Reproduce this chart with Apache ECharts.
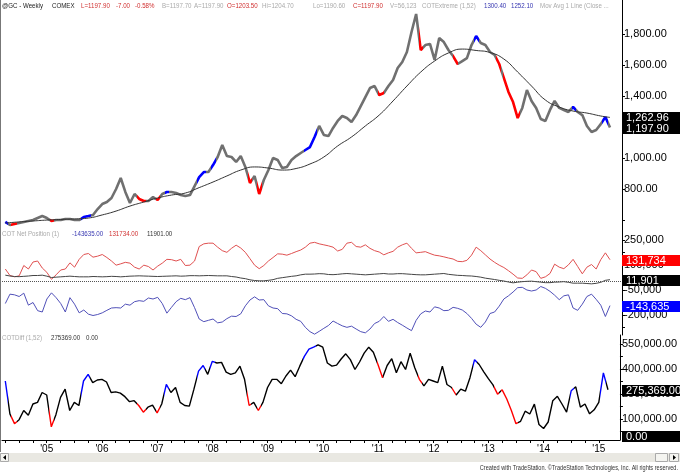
<!DOCTYPE html>
<html>
<head>
<meta charset="utf-8">
<script src="https://cdn.jsdelivr.net/npm/echarts@6/dist/echarts.min.js"></script>
<style>html,body{margin:0;padding:0;background:#fff}#chart{width:680px;height:472px}</style>
</head>
<body>
<div id="chart"></div>
<script>
// x = month index counted from Jan 2004 (12 = Jan 2005)
const months = [];
for (let m = 3; m <= 134; m++) months.push(m);
const yearTicks = [12, 24, 36, 48, 60, 72, 84, 96, 108, 120, 132];

// weekly @GC, sampled monthly
const priceClose = [
  590, 570, 577, 583, 590, 596, 602, 615, 628, 615,
  596, 602, 602, 609, 609, 602, 602, 622, 628, 635,
  673, 705, 718, 744, 802, 873, 783, 712, 770, 738,
  725, 725, 750, 731, 770, 783, 783, 776, 763, 757,
  763, 821, 879, 911, 911, 956, 1008, 1085, 1014, 1008,
  976, 1014, 944, 841, 886, 770, 860, 924, 1002, 989,
  937, 944, 989, 1014, 1034, 1053, 1072, 1137, 1208, 1150,
  1143, 1195, 1240, 1272, 1259, 1233, 1278, 1336, 1394, 1452,
  1465, 1407, 1420, 1465, 1504, 1581, 1620, 1684, 1813, 1929,
  1697, 1729, 1736, 1633, 1774, 1748, 1697, 1658, 1607, 1626,
  1645, 1729, 1787, 1742, 1729, 1684, 1665, 1607, 1517, 1427,
  1362, 1259, 1324, 1439, 1369, 1324, 1253, 1240, 1311, 1369,
  1324, 1311, 1298, 1330, 1298, 1278, 1208, 1169, 1182, 1220,
  1266, 1197.9
];

// moving average, every third month
const maMonths = [];
for (let m = 3; m <= 132; m += 3) maMonths.push(m);
maMonths.push(134);
const maValues = [
  583, 590, 596, 602, 606, 609, 615, 635, 660, 692, 718, 744, 763, 776, 811,
  847, 886, 924, 944, 937, 924, 934, 963, 1008, 1079, 1137, 1208, 1278, 1369, 1465,
  1555, 1626, 1678, 1703, 1694, 1681, 1639, 1555, 1465, 1375, 1330, 1304, 1291, 1272, 1262.96
];

// COT net position, thousands of contracts
const cotRed = [
  76, 37, 29, 35, 97, 76, 118, 124, 82, 56,
  14, 41, 70, 76, 113, 87, 134, 163, 169, 147,
  153, 163, 145, 124, 99, 107, 116, 111, 87, 76,
  99, 91, 70, 93, 111, 134, 132, 124, 134, 97,
  99, 124, 211, 227, 231, 231, 207, 186, 176, 200,
  219, 202, 176, 138, 99, 78, 97, 124, 145, 167,
  165, 159, 169, 180, 190, 207, 231, 236, 227, 221,
  215, 207, 184, 194, 231, 236, 211, 207, 221, 200,
  186, 178, 161, 173, 182, 207, 221, 231, 200, 173,
  176, 180, 169, 159, 155, 149, 142, 136, 122, 120,
  128, 159, 207, 186, 161, 136, 116, 99, 85, 66,
  45, 22, 20, 41, 70, 60, 20, 29, 49, 105,
  87, 78, 101, 134, 91, 47, 87, 103, 76, 132,
  173, 131.734
];
const cotBlack = [
  39, 34, 31, 30, 32, 34, 37, 37, 39, 33,
  25, 27, 29, 31, 33, 31, 29, 29, 29, 31,
  30, 29, 30, 32, 31, 29, 31, 33, 34, 35,
  34, 33, 32, 31, 32, 33, 34, 35, 33, 34,
  36, 36, 35, 36, 37, 36, 35, 35, 35, 31,
  28, 22, 18, 11, 7, 5, 5, 8, 12, 20,
  24, 28, 32, 35, 41, 45, 45, 46, 48, 47,
  43, 42, 44, 47, 49, 47, 45, 43, 41, 43,
  45, 47, 49, 46, 46, 48, 48, 46, 44, 42,
  41, 41, 43, 45, 47, 49, 44, 41, 38, 37,
  35, 34, 31, 27, 21, 17, 13, 8, 4, -2,
  -7, -3, 0, 2, 3, 0, -3, -6, -6, -3,
  -2, 0, -4, -9, -9, -9, -11, -13, -10, -4,
  8, 11.901
];
const cotBlue = [
  -131, -75, -79, -89, -69, -141, -125, -174, -182, -104,
  -67, -96, -131, -182, -96, -135, -187, -170, -195, -203,
  -197, -187, -172, -158, -156, -158, -135, -141, -120, -114,
  -118, -98, -104, -94, -131, -189, -154, -120, -100, -108,
  -96, -156, -224, -240, -232, -224, -247, -242, -222, -207,
  -209, -193, -145, -110, -91, -110, -108, -145, -158, -162,
  -191, -193, -205, -226, -238, -274, -300, -315, -298, -280,
  -263, -236, -251, -265, -274, -267, -284, -300, -307, -284,
  -251, -238, -209, -238, -226, -245, -261, -278, -294, -232,
  -193, -176, -182, -151, -158, -174, -172, -154, -160, -170,
  -191, -220, -255, -274, -242, -191, -182, -147, -104, -85,
  -62, -36, -34, -50, -56, -50, -29, -40, -58, -81,
  -108, -85, -79, -158, -172, -135, -89, -75, -106, -141,
  -209, -143.635
];
// COTDiff (1,52), thousands
const cotDiff = [
  328, 131, 72, 96, 151, 122, 190, 200, 259, 244,
  53, 126, 230, 279, 151, 200, 181, 328, 368, 318,
  334, 338, 322, 259, 263, 255, 234, 204, 210, 181,
  141, 171, 183, 137, 190, 308, 259, 289, 200, 181,
  177, 279, 387, 421, 368, 446, 436, 440, 381, 368,
  377, 417, 338, 181, 200, 151, 200, 289, 338, 338,
  312, 358, 393, 354, 417, 476, 519, 531, 545, 531,
  436, 417, 423, 460, 491, 456, 397, 442, 495, 531,
  501, 427, 348, 421, 462, 377, 444, 397, 495, 407,
  338, 299, 338, 328, 318, 417, 307, 289, 244, 279,
  267, 348, 456, 427, 383, 342, 305, 249, 275, 220,
  151, 72, 86, 147, 130, 189, 67, 43, 82, 210,
  236, 190, 141, 269, 293, 171, 190, 131, 155, 200,
  377, 275.369
];

// COTExtreme flags (month ranges)
const blueRanges = [[2.3, 3.6], [19.5, 21.5], [37.5, 38.5], [44.6, 46.5], [47.6, 48.6],
  [67.7, 70.5], [104.6, 105.6], [125.7, 126.7], [132.3, 133.5]];
const redRanges = [[4.2, 5.5], [12.6, 13.6], [31.6, 33.5], [35.7, 36.6], [55.5, 56.5],
  [57.6, 58.5], [83.8, 85], [92.6, 93.5], [100, 101], [109.3, 110.3], [110.8, 114.5]];

const last = a => a[a.length - 1];
const pair = (xs, ys) => xs.map((x, i) => [x, ys[i]]);
const fmt = (v, d) => v.toLocaleString('en-US', { minimumFractionDigits: d, maximumFractionDigits: d });
const FONT = 'Liberation Sans';

const pieces = blueRanges.map(r => ({ gte: r[0], lt: r[1], color: '#0000ff' }))
  .concat(redRanges.map(r => ({ gte: r[0], lt: r[1], color: '#ff0000' })));

function xAx(grid, show) {
  return {
    type: 'value', gridIndex: grid, min: 2.28, max: 136.6,
    splitLine: { show: false },
    axisLine: { show: show, onZero: false, lineStyle: { color: '#000' } },
    axisTick: { show: show, length: 3, customValues: months.filter(m => m % 3 === 0), lineStyle: { color: '#000' } },
    axisLabel: {
      show: show, customValues: yearTicks, margin: 4, fontSize: 10, fontFamily: FONT, color: '#000',
      formatter: v => "'" + String((2004 + v / 12) % 100).padStart(2, '0')
    }
  };
}
function yAx(grid, min, max, labels, ticks, f) {
  return {
    type: 'value', gridIndex: grid, position: 'right', min: min, max: max,
    splitLine: { show: false },
    axisLine: { show: true, lineStyle: { color: '#000' } },
    axisTick: { show: true, length: 3, customValues: ticks, lineStyle: { color: '#000' } },
    axisLabel: { customValues: labels, formatter: f, margin: 2, fontSize: 11, fontFamily: FONT, color: '#000' }
  };
}

const headTexts = [
  ['@GC - Weekly', 2, 6, '#222'], ['COMEX', 52, 6, '#222'],
  ['L=1197.90', 81, 6, '#d03030'], ['-7.00', 116, 6, '#d03030'], ['-0.58%', 135, 6, '#d03030'],
  ['B=1197.70', 162, 6, '#aaa'], ['A=1197.90', 194, 6, '#aaa'], ['O=1203.50', 227, 6, '#d03030'],
  ['Hi=1204.70', 262, 6, '#aaa'], ['Lo=1190.60', 313, 6, '#aaa'], ['C=1197.90', 353, 6, '#d03030'],
  ['V=56,123', 390, 6, '#aaa'], ['COTExtreme (1,52)', 422, 6, '#aaa'],
  ['1300.40', 484, 6, '#3535b0'], ['1252.10', 511, 6, '#3535b0'],
  ['Mov Avg 1 Line (Close ...', 540, 6, '#aaa'],
  ['COT Net Position (1)', 2, 234, '#aaa'], ['-143635.00', 72, 234, '#3535b0'],
  ['131734.00', 109, 234, '#d03030'], ['11901.00', 147, 234, '#333'],
  ['COTDiff (1,52)', 2, 338, '#aaa'], ['275369.00', 51, 338, '#333'], ['0.00', 86, 338, '#333']
];

const graphics = headTexts.map(t => ({
  type: 'text', x: t[1], y: t[2], scaleX: 0.88,
  style: { text: t[0], fill: t[3], font: '7px "' + FONT + '"', verticalAlign: 'middle' }
}));
graphics.push(
  { type: 'line', shape: { x1: 0.5, y1: 0, x2: 0.5, y2: 452 }, style: { stroke: '#777', lineWidth: 1 } },
  { type: 'rect', shape: { x: 0, y: 453, width: 680, height: 9 }, style: { fill: '#e9e8e2' } },
  { type: 'rect', shape: { x: 0.5, y: 453.5, width: 8, height: 8 }, style: { fill: '#f4f4f0', stroke: '#aaa' } },
  { type: 'polygon', shape: { points: [[3, 457.5], [6, 455], [6, 460]] }, style: { fill: '#000' } },
  { type: 'rect', shape: { x: 655.5, y: 453.5, width: 12, height: 8 }, style: { fill: '#f4f4f0', stroke: '#aaa' } },
  { type: 'rect', shape: { x: 669.5, y: 453.5, width: 9, height: 8 }, style: { fill: '#f4f4f0', stroke: '#aaa' } },
  { type: 'polygon', shape: { points: [[676, 457.5], [673, 455], [673, 460]] }, style: { fill: '#000' } },
  {
    type: 'text', x: 678, y: 468, scaleX: 0.8,
    style: {
      text: 'Created with TradeStation. \u00a9TradeStation Technologies, Inc. All rights reserved.',
      fill: '#333', font: '7px "' + FONT + '"', align: 'right', verticalAlign: 'middle'
    }
  }
);

const option = {
  animation: false,
  backgroundColor: '#fff',
  grid: [
    { left: 2, width: 620, top: 0, height: 230 },
    { left: 2, width: 620, top: 230, height: 105 },
    { left: 2, width: 620, top: 335, height: 105 }
  ],
  xAxis: [xAx(0, false), xAx(1, false), xAx(2, true)],
  yAxis: [
    yAx(0, 538, 2019, [800, 1000, 1200, 1400, 1600, 1800], [600, 800, 1000, 1200, 1400, 1600, 1800], v => fmt(v, 2)),
    yAx(1, -320, 310, [250, 100, -50, -200], [250, 175, 100, 25, -50, -125, -200, -275], v => fmt(v * 1000, 0)),
    yAx(2, -26, 604, [550, 400, 250, 100], [550, 475, 400, 325, 250, 175, 100, 25], v => fmt(v * 1000, 2))
  ],
  visualMap: [
    { type: 'piecewise', show: false, seriesIndex: 0, dimension: 0, pieces: pieces, outOfRange: { color: '#707070' } },
    { type: 'piecewise', show: false, seriesIndex: 5, dimension: 0, pieces: pieces, outOfRange: { color: '#000' } }
  ],
  series: [
    {
      type: 'line', xAxisIndex: 0, yAxisIndex: 0, data: pair(months, priceClose),
      showSymbol: false, lineStyle: { width: 2.6, join: 'bevel' }
    },
    {
      type: 'line', xAxisIndex: 0, yAxisIndex: 0, data: pair(maMonths, maValues),
      showSymbol: false, smooth: true, color: '#333', lineStyle: { width: 1 }
    },
    {
      type: 'line', xAxisIndex: 1, yAxisIndex: 1, data: pair(months, cotRed),
      showSymbol: false, color: '#e05050', lineStyle: { width: 1 }
    },
    {
      type: 'line', xAxisIndex: 1, yAxisIndex: 1, data: pair(months, cotBlack),
      showSymbol: false, color: '#444', lineStyle: { width: 1 },
      markLine: {
        silent: true, symbol: 'none',
        data: [{ yAxis: 0, lineStyle: { color: '#555', type: 'dotted', width: 1 }, label: { show: false } }]
      }
    },
    {
      type: 'line', xAxisIndex: 1, yAxisIndex: 1, data: pair(months, cotBlue),
      showSymbol: false, color: '#5050b8', lineStyle: { width: 1 }
    },
    {
      type: 'line', xAxisIndex: 2, yAxisIndex: 2, data: pair(months, cotDiff),
      showSymbol: false, lineStyle: { width: 1.4 }
    }
  ]
};

const chart = echarts.init(document.getElementById('chart'));
chart.setOption(option);

// last-value markers on the right axis, placed through the axis scales
const tags = [
  [0, last(maValues), fmt(last(maValues), 2), '#000'],
  [0, last(priceClose), fmt(last(priceClose), 2), '#000'],
  [1, last(cotRed), fmt(last(cotRed) * 1000, 0), '#ff0000'],
  [1, last(cotBlack), fmt(last(cotBlack) * 1000, 0), '#000'],
  [1, last(cotBlue), fmt(last(cotBlue) * 1000, 0), '#0000ff'],
  [2, last(cotDiff), fmt(last(cotDiff) * 1000, 2), '#000'],
  [2, 0, '0.00', '#000']
];
tags.forEach(t => {
  const y = chart.convertToPixel({ yAxisIndex: t[0] }, t[1]);
  graphics.push({
    type: 'group', x: 622, y: Math.round(y) - 5, z: 100,
    children: [
      { type: 'rect', z: 100, shape: { x: 0, y: 0, width: 58, height: 11 }, style: { fill: t[3] } },
      {
        type: 'text', z: 101, x: 4, y: 5.5,
        style: { text: t[2], fill: '#fff', font: '11px "' + FONT + '"', verticalAlign: 'middle' }
      }
    ]
  });
});
chart.setOption({ graphic: graphics });
</script>
</body>
</html>
